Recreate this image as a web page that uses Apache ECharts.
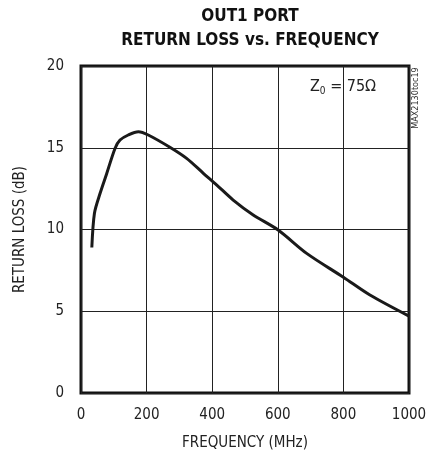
<!DOCTYPE html>
<html>
<head>
<meta charset="utf-8">
<script src="https://cdn.jsdelivr.net/npm/echarts@6/dist/echarts.min.js"></script>
<style>html,body{margin:0;padding:0;background:#fff}#c{width:426px;height:452px}</style>
</head>
<body>
<div id="c"></div>
<script>
const titleLines = ['OUT1 PORT', 'RETURN LOSS vs. FREQUENCY'];
const xTicks = [0, 200, 400, 600, 800, 1000];
const yTicks = [0, 5, 10, 15, 20];
const freqMHz = [33, 41, 58, 78, 104, 119, 144, 175, 205, 271, 322, 373, 414, 464, 525, 601, 688, 800, 881, 1000];
const returnLossDb = [8.9, 11.0, 12.2, 13.4, 14.97, 15.47, 15.78, 15.98, 15.78, 15.03, 14.35, 13.44, 12.72, 11.8, 10.89, 9.97, 8.54, 7.08, 5.99, 4.7];

const FONT = '"Liberation Sans Narrow", "DejaVu Sans Condensed", "Liberation Sans", sans-serif';
const chart = echarts.init(document.getElementById('c'));
chart.setOption({
  animation: false,
  title: {
    text: titleLines.join('\n'),
    left: 245, top: 0, textAlign: 'center',
    textStyle: { fontFamily: FONT, fontWeight: 'bold', fontSize: 17, lineHeight: 24, color: '#111' }
  },
  grid: { left: 81, right: 17, top: 66, bottom: 59, show: true, borderColor: '#111', borderWidth: 3, backgroundColor: 'transparent', outerBoundsMode: 'none', containLabel: false },
  xAxis: {
    type: 'value', min: xTicks[0], max: xTicks[xTicks.length - 1], interval: 200,
    name: 'FREQUENCY (MHz)', nameLocation: 'middle', nameGap: 43,
    nameTextStyle: { fontFamily: FONT, fontSize: 15, color: '#222' },
    axisLine: { show: false }, axisTick: { show: false },
    axisLabel: { fontFamily: FONT, fontSize: 15, color: '#222', margin: 15, formatter: v => String(v) },
    splitLine: { lineStyle: { color: '#222', width: 1 } }
  },
  yAxis: {
    type: 'value', min: yTicks[0], max: yTicks[yTicks.length - 1], interval: 5,
    name: 'RETURN LOSS (dB)', nameLocation: 'middle', nameGap: 53,
    nameTextStyle: { fontFamily: FONT, fontSize: 15, color: '#222' },
    axisLine: { show: false }, axisTick: { show: false },
    axisLabel: { fontFamily: FONT, fontSize: 15, color: '#222', margin: 17, formatter: v => String(v) },
    splitLine: { lineStyle: { color: '#222', width: 1 } }
  },
  graphic: [
    {
      type: 'text', left: 310, top: 79,
      style: {
        text: '{a|Z}{s|0}{a| = 75Ω}',
        rich: {
          a: { fontFamily: FONT, fontSize: 16, fill: '#222' },
          s: { fontFamily: FONT, fontSize: 10, fill: '#222', padding: [8, 0, 0, 0] }
        }
      }
    },
    {
      type: 'text', x: 416, y: 98, rotation: Math.PI / 2,
      style: { text: 'MAX2130toc19', fontFamily: FONT, fontSize: 9, fill: '#333', align: 'center', verticalAlign: 'middle' }
    }
  ],
  series: [{
    type: 'line', smooth: 0.3, symbol: 'none',
    data: freqMHz.map((f, i) => [f, returnLossDb[i]]),
    lineStyle: { color: '#1a1a1a', width: 3 }
  }]
});
</script>
</body>
</html>
